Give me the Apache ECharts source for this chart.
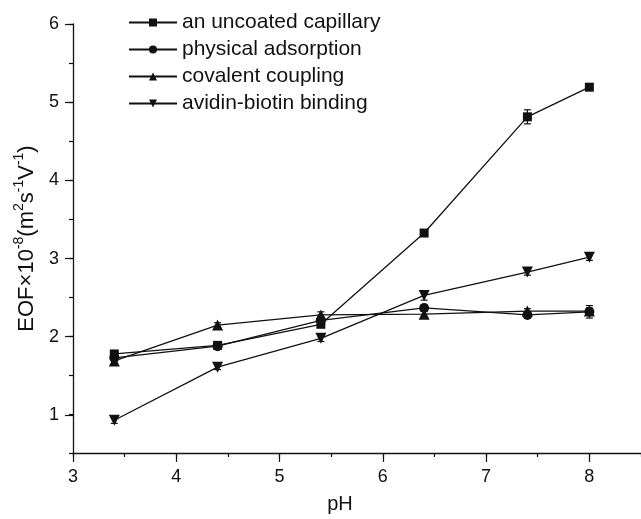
<!DOCTYPE html>
<html>
<head>
<meta charset="utf-8">
<script src="https://cdn.jsdelivr.net/npm/echarts@6/dist/echarts.min.js"></script>
<style>
  html, body { margin: 0; padding: 0; background: #fff; }
  #chart { width: 641px; height: 519px; }
</style>
</head>
<body>
<div id="chart"></div>
<script>
    'use strict';

    // pH values where EOF was measured
    var ph = [3.4, 4.4, 5.4, 6.4, 7.4, 8.0];

    var seriesNames = [
        'an uncoated capillary',
        'physical adsorption',
        'covalent coupling',
        'avidin-biotin binding'
    ];

    // EOF x 10^-8 (m2 s-1 V-1)
    var uncoated = [1.77, 1.88, 2.15, 3.32, 4.81, 5.19];
    var physical = [1.72, 1.87, 2.20, 2.36, 2.27, 2.31];
    var covalent = [1.68, 2.14, 2.27, 2.28, 2.32, 2.32];
    var avidin = [0.92, 1.60, 1.97, 2.52, 2.82, 3.01];

    // standard deviations (error bars)
    var uncoatedErr = [0.04, 0.04, 0.04, 0.03, 0.09, 0.04];
    var physicalErr = [0.03, 0.03, 0.04, 0.04, 0.03, 0.08];
    var covalentErr = [0.04, 0.03, 0.04, 0.04, 0.03, 0.04];
    var avidinErr = [0.04, 0.03, 0.04, 0.06, 0.04, 0.04];

    var xTicks = [3, 4, 5, 6, 7, 8];
    var yTicks = [1, 2, 3, 4, 5, 6];

    var values = [uncoated, physical, covalent, avidin];
    var errors = [uncoatedErr, physicalErr, covalentErr, avidinErr];
    var symbols = ['rect', 'circle', 'triangle', 'triangle'];
    var symbolSizes = [9, 10, 11, 11];
    var symbolRotates = [0, 0, 0, 180];

    var xMin = 3, xMax = 8.5, yMin = 0.5, yMax = 6;
    var W = 641, H = 519;
    var grid = {left: 73, right: 0, top: 24, bottom: 65};
    var plotW = W - grid.left - grid.right;
    var plotH = H - grid.top - grid.bottom;

    var font = 'Liberation Sans, Arial, sans-serif';
    var ink = '#111';

    var chart = echarts.init(document.getElementById('chart'));

    var series = [];
    values.forEach(function (vals, i) {
        series.push({
            name: seriesNames[i],
            type: 'line',
            xAxisIndex: 0,
            yAxisIndex: 0,
            data: ph.map(function (x, j) { return [x, vals[j]]; }),
            symbol: symbols[i],
            symbolSize: symbolSizes[i],
            symbolRotate: symbolRotates[i],
            showAllSymbol: true,
            lineStyle: {color: ink, width: 1.3},
            itemStyle: {color: ink, borderWidth: 0},
            emphasis: {disabled: true},
            animation: false
        });
        // error bars
        series.push({
            type: 'custom',
            xAxisIndex: 0,
            yAxisIndex: 0,
            silent: true,
            animation: false,
            data: ph.map(function (x, j) {
                return [x, vals[j] - errors[i][j], vals[j] + errors[i][j]];
            }),
            renderItem: function (params, api) {
                var lo = api.coord([api.value(0), api.value(1)]);
                var hi = api.coord([api.value(0), api.value(2)]);
                var cap = 3.5;
                var style = {stroke: ink, lineWidth: 1.2};
                return {
                    type: 'group',
                    children: [
                        {type: 'line', shape: {x1: lo[0], y1: lo[1], x2: hi[0], y2: hi[1]}, style: style},
                        {type: 'line', shape: {x1: lo[0] - cap, y1: lo[1], x2: lo[0] + cap, y2: lo[1]}, style: style},
                        {type: 'line', shape: {x1: hi[0] - cap, y1: hi[1], x2: hi[0] + cap, y2: hi[1]}, style: style}
                    ]
                };
            }
        });
    });

    var axisLine = {show: true, lineStyle: {color: ink, width: 1.3}};
    var labelStyle = {color: ink, fontSize: 18, fontFamily: font, margin: 14};
    var minorTick = {show: true, length: 4, lineStyle: {color: ink, width: 1.2}};
    var majorTick = {show: true, length: 8, lineStyle: {color: ink, width: 1.2}};

    // overlay grids carry the long integer ticks and their labels
    var yMajorBottom = grid.bottom + (yTicks[0] - yMin) / (yMax - yMin) * plotH;
    var xMajorRight = grid.right + (xMax - xTicks[xTicks.length - 1]) / (xMax - xMin) * plotW;

    var option = {
        backgroundColor: '#fff',
        animation: false,
        legend: {
            orient: 'vertical',
            left: 123,
            top: 7,
            itemWidth: 48,
            itemHeight: 10,
            itemGap: 6,
            data: seriesNames,
            textStyle: {color: ink, fontSize: 21, fontFamily: font, lineHeight: 20},
            selectedMode: false
        },
        grid: [
            grid,
            {left: grid.left, right: grid.right, top: grid.top, bottom: yMajorBottom},
            {left: grid.left, right: xMajorRight, top: grid.top, bottom: grid.bottom}
        ],
        xAxis: [
            {
                gridIndex: 0, type: 'value', min: xMin, max: xMax, interval: 0.5,
                axisLine: axisLine,
                axisTick: minorTick,
                axisLabel: {show: false},
                splitLine: {show: false},
                name: 'pH', nameLocation: 'middle', nameGap: 41,
                nameTextStyle: {color: ink, fontSize: 20, fontFamily: font, padding: [0, 34, 0, 0]}
            },
            {gridIndex: 1, type: 'value', min: xMin, max: xMax, show: false},
            {
                gridIndex: 2, type: 'value', min: xTicks[0], max: xTicks[xTicks.length - 1], interval: 1,
                axisLine: {show: false},
                axisTick: majorTick,
                axisLabel: labelStyle,
                splitLine: {show: false}
            }
        ],
        yAxis: [
            {
                gridIndex: 0, type: 'value', min: yMin, max: yMax, interval: 0.5,
                axisLine: axisLine,
                axisTick: minorTick,
                axisLabel: {show: false},
                splitLine: {show: false},
                name: '{n|EOF×10}{s|-8}{n|(m}{s|2}{n|s}{s|-1}{n|V}{s|-1}{n|)}',
                nameLocation: 'middle',
                nameGap: 35,
                nameRotate: 90,
                nameTextStyle: {
                    color: ink,
                    fontFamily: font,
                    rich: {
                        n: {fontSize: 22, lineHeight: 26, color: ink, fontFamily: font, verticalAlign: 'bottom'},
                        s: {fontSize: 14, lineHeight: 26, color: ink, fontFamily: font, verticalAlign: 'top', padding: [0, 0, 12, 0]}
                    }
                }
            },
            {
                gridIndex: 1, type: 'value', min: yTicks[0], max: yTicks[yTicks.length - 1], interval: 1,
                axisLine: {show: false},
                axisTick: majorTick,
                axisLabel: labelStyle,
                splitLine: {show: false}
            },
            {gridIndex: 2, type: 'value', min: yMin, max: yMax, show: false}
        ],
        series: series
    };

    chart.setOption(option);
</script>
</body>
</html>
